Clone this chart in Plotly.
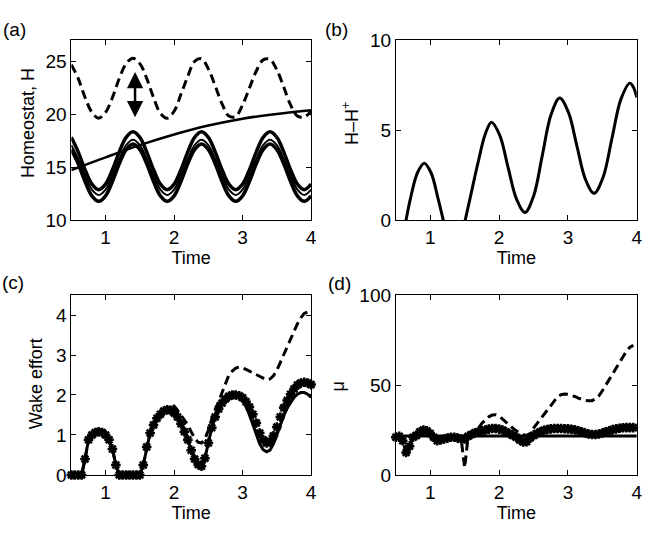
import plotly.graph_objects as go

# ---------------- data ----------------
# panel (a): homeostat
a_x = [0.5, 0.6, 0.7, 0.8, 0.9, 1.0, 1.1, 1.2, 1.3, 1.4,
       1.5, 1.6, 1.7, 1.8, 1.9, 2.0, 2.1, 2.2, 2.3, 2.4,
       2.5, 2.6, 2.7, 2.8, 2.9, 3.0, 3.1, 3.2, 3.3, 3.4,
       3.5, 3.6, 3.7, 3.8, 3.9, 4.0]
a_upper = [17.84, 16.47, 14.79, 13.42, 12.9, 13.42, 14.79, 16.47, 17.84, 18.36,
           17.84, 16.47, 14.79, 13.42, 12.9, 13.42, 14.79, 16.47, 17.84, 18.36,
           17.84, 16.47, 14.79, 13.42, 12.9, 13.42, 14.79, 16.47, 17.84, 18.36,
           17.84, 16.47, 14.79, 13.42, 12.9, 13.42]
a_middle = [17.1, 15.8, 14.2, 12.9, 12.4, 12.9, 14.2, 15.8, 17.1, 17.6,
            17.1, 15.8, 14.2, 12.9, 12.4, 12.9, 14.2, 15.8, 17.1, 17.6,
            17.1, 15.8, 14.2, 12.9, 12.4, 12.9, 14.2, 15.8, 17.1, 17.6,
            17.1, 15.8, 14.2, 12.9, 12.4, 12.9]
a_lower = [16.68, 15.33, 13.67, 12.32, 11.8, 12.32, 13.67, 15.33, 16.68, 17.2,
           16.68, 15.33, 13.67, 12.32, 11.8, 12.32, 13.67, 15.33, 16.68, 17.2,
           16.68, 15.33, 13.67, 12.32, 11.8, 12.32, 13.67, 15.33, 16.68, 17.2,
           16.68, 15.33, 13.67, 12.32, 11.8, 12.32]
a_dashed = [24.7, 23.4, 21.6, 20.2, 19.65, 20.2, 21.6, 23.4, 24.8, 25.3,
            24.8, 23.4, 21.6, 20.1, 19.65, 20.3, 21.9, 23.6, 25.0, 25.25,
            24.3, 22.7, 21.0, 19.85, 19.8, 20.9, 22.5, 24.1, 25.15, 25.2,
            24.2, 22.6, 20.9, 19.85, 19.75, 20.3]
a_trend_x = [0.5, 1.0, 1.5, 2.0, 2.5, 3.0, 3.5, 4.0]
a_trend = [14.75, 15.95, 17.1, 18.1, 18.95, 19.6, 20.05, 20.4]
a_arrow_x = 1.43
a_arrow_y = [19.6, 24.0]

# panel (b): H - H+
b_x = [0.648, 0.713, 0.813, 0.913, 1.013, 1.113, 1.19, None,
       1.507, 1.6, 1.7, 1.8, 1.89, 2.01, 2.13, 2.255, 2.377,
       2.503, 2.628, 2.754, 2.88, 3.005, 3.13, 3.255, 3.38,
       3.51, 3.64, 3.77, 3.90, 3.95, 4.0]
b_y = [0.0, 1.22, 2.63, 3.17, 2.63, 1.22, 0.0, None,
       0.0, 1.6, 3.3, 4.8, 5.45, 4.72, 2.95, 1.17, 0.44,
       1.37, 3.61, 5.86, 6.79, 6.02, 4.14, 2.27, 1.5,
       2.39, 4.56, 6.73, 7.62, 7.4, 6.83]

# panels (c) and (d): common time grid
t = [0.50, 0.55, 0.60, 0.65, 0.70, 0.75, 0.80, 0.85, 0.90, 0.95,
     1.00, 1.05, 1.10, 1.15, 1.20, 1.25, 1.30, 1.35, 1.40, 1.45,
     1.50, 1.55, 1.60, 1.65, 1.70, 1.75, 1.80, 1.85, 1.90, 1.95,
     2.00, 2.05, 2.10, 2.15, 2.20, 2.25, 2.30, 2.35, 2.40, 2.45,
     2.50, 2.55, 2.60, 2.65, 2.70, 2.75, 2.80, 2.85, 2.90, 2.95,
     3.00, 3.05, 3.10, 3.15, 3.20, 3.25, 3.30, 3.35, 3.40, 3.45,
     3.50, 3.55, 3.60, 3.65, 3.70, 3.75, 3.80, 3.85, 3.90, 3.95,
     4.00]

c_markers = [0, 0, 0, 0, 0.4, 0.88, 1.0, 1.06, 1.08, 1.06,
             1.0, 0.88, 0.65, 0.25, 0, 0, 0, 0, 0, 0,
             0, 0.25, 0.7, 1.05, 1.25, 1.42, 1.52, 1.6, 1.63, 1.62,
             1.55, 1.45, 1.28, 1.08, 0.88, 0.62, 0.4, 0.26, 0.22, 0.42,
             0.8, 1.18, 1.45, 1.65, 1.8, 1.9, 1.97, 2.0, 2.0, 1.98,
             1.93, 1.83, 1.7, 1.52, 1.3, 1.05, 0.88, 0.8, 0.84, 0.98,
             1.2, 1.45, 1.68, 1.86, 2.02, 2.15, 2.25, 2.3, 2.32, 2.3,
             2.26]
c_solid = [0, 0, 0, 0, 0.4, 0.88, 1.0, 1.06, 1.08, 1.06,
           1.0, 0.88, 0.65, 0.25, 0, 0, 0, 0, 0, 0,
           0, 0.25, 0.7, 1.05, 1.25, 1.42, 1.52, 1.6, 1.63, 1.62,
           1.55, 1.45, 1.28, 1.08, 0.88, 0.62, 0.4, 0.26, 0.22, 0.42,
           0.8, 1.18, 1.45, 1.65, 1.8, 1.9, 1.97, 2.0, 2.0, 1.96,
           1.87, 1.72, 1.5, 1.25, 1.0, 0.78, 0.63, 0.58, 0.62, 0.78,
           1.0, 1.25, 1.48, 1.67, 1.82, 1.94, 2.02, 2.06, 2.06, 2.02,
           1.94]
c_dashed = [0, 0, 0, 0, 0.4, 0.88, 1.0, 1.06, 1.08, 1.06,
            1.0, 0.88, 0.65, 0.25, 0, 0, 0, 0, 0, 0,
            0, 0.25, 0.7, 1.05, 1.25, 1.42, 1.52, 1.6, 1.63, 1.68,
            1.72, 1.62, 1.5, 1.38, 1.25, 1.08, 0.92, 0.82, 0.8, 0.9,
            1.12, 1.4, 1.62, 1.85, 2.08, 2.3, 2.5, 2.6, 2.67, 2.7,
            2.68, 2.64, 2.6, 2.56, 2.52, 2.47, 2.42, 2.38, 2.4, 2.48,
            2.62, 2.82, 3.02, 3.22, 3.42, 3.6, 3.78, 3.93, 4.04, 4.08,
            4.1]

d_markers = [21, 21.5, 19, 12.5, 16, 21, 22, 24, 25, 24.5,
             23, 21, 19, 19.5, 20, 20.5, 21, 21, 20.5, 20,
             20, 21.5, 22.5, 23.5, 24, 24.5, 25, 25.5, 25.8, 25.8,
             25.5, 25, 24, 23, 22, 21, 19.5, 18.3, 18.5, 20.5,
             22, 23, 24, 24.8, 25.3, 25.6, 25.8, 25.8, 25.8, 25.7,
             25.6, 25.4, 25.1, 24.6, 24, 23.3, 22.8, 22.5, 22.5, 22.8,
             23.3, 24, 24.6, 25.2, 25.6, 26, 26.2, 26.3, 26.3, 26.3,
             None]
d_dashed = [21, 21.5, 19, 12.5, 16, 21, 22, 24, 25, 24.5,
            23, 21, 19, 19.5, 20, 20.5, 21, 21, 20.5, 20,
            4, 21.5, 22.5, 24, 26, 28.7, 30.8, 32.3, 33.3, 33.5,
            32.8, 31, 29.3, 27.6, 26, 24.5, 23.2, 22.3, 22, 23,
            26, 28.5, 31, 33.5, 36.3, 39, 41.3, 43.5, 44.6, 45,
            44.8, 44.4, 43.6, 42.7, 42, 41.5, 41.2, 41.3, 42.2, 44,
            46.8, 50, 53.3, 56.6, 59.6, 62.8, 66, 68.8, 71, 72,
            None]
d_base_x = [0.5, 4.0]
d_base = [21.7, 21.7]

# ---------------- figure ----------------
FONT = "Liberation Sans, Arial, Helvetica, sans-serif"
fig = go.Figure()

def line(x, y, xa, ya, width, dash=None, shape="linear"):
    fig.add_trace(go.Scatter(x=x, y=y, xaxis=xa, yaxis=ya, mode="lines",
                             line=dict(color="black", width=width, dash=dash, shape=shape),
                             showlegend=False, hoverinfo="skip"))

def marks(x, y, xa, ya):
    fig.add_trace(go.Scatter(x=x, y=y, xaxis=xa, yaxis=ya, mode="markers",
                             marker=dict(symbol="asterisk-open", size=8, color="black",
                                         line=dict(color="black", width=2.5)),
                             cliponaxis=False, showlegend=False, hoverinfo="skip"))

# (a)
line(a_x, a_dashed, "x", "y", 3, dash="9px,5px", shape="spline")
line(a_trend_x, a_trend, "x", "y", 2.5, shape="spline")
line(a_x, a_upper, "x", "y", 3.5, shape="spline")
line(a_x, a_middle, "x", "y", 2, shape="spline")
line(a_x, a_lower, "x", "y", 3.5, shape="spline")
# (b)
line(b_x, b_y, "x2", "y2", 3, shape="spline")
# (c)
line(t, c_dashed, "x3", "y3", 3, dash="9px,5px")
line(t, c_solid, "x3", "y3", 3)
marks(t, c_markers, "x3", "y3")
# (d)
line(t, d_dashed, "x4", "y4", 3, dash="9px,5px")
line(d_base_x, d_base, "x4", "y4", 3)
marks(t, d_markers, "x4", "y4")

axis_common = dict(showgrid=False, zeroline=False, showline=True, linecolor="black",
                   linewidth=1, mirror="ticks", ticks="inside", ticklen=5,
                   tickcolor="black", tickwidth=1,
                   tickfont=dict(family=FONT, size=19, color="black"))

xdomL = [72 / 651, 314 / 651]
xdomR = [399.5 / 651, 642.7 / 651]
ydomT = [1 - 219 / 534, 1 - 31.5 / 534]
ydomB = [1 - 484 / 534, 1 - 296.7 / 534]

def xax(dom, anchor):
    return dict(axis_common, domain=dom, anchor=anchor, range=[0.5, 4],
                tickvals=[1, 2, 3, 4],
                title=dict(text="Time", font=dict(family=FONT, size=18, color="black"),
                           standoff=1))

def yax(dom, anchor, rng, ticks):
    return dict(axis_common, domain=dom, anchor=anchor, range=rng, tickvals=ticks)

fig.update_layout(
    width=651, height=534,
    margin=dict(l=0, r=0, t=0, b=0),
    paper_bgcolor="white", plot_bgcolor="white",
    xaxis=xax(xdomL, "y"),
    yaxis=yax(ydomT, "x", [10, 27], [10, 15, 20, 25]),
    xaxis2=xax(xdomR, "y2"),
    yaxis2=yax(ydomT, "x2", [0, 10], [0, 5, 10]),
    xaxis3=xax(xdomL, "y3"),
    yaxis3=yax(ydomB, "x3", [0, 4.5], [0, 1, 2, 3, 4]),
    xaxis4=xax(xdomR, "y4"),
    yaxis4=yax(ydomB, "x4", [0, 100], [0, 50, 100]),
)

# y-axis titles (rotated text)
for txt, px, py in [("Homeostat, H", 29, 118), ("H\u2013H<sup>+</sup>", 354, 118),
                    ("Wake effort", 36, 389), ("\u03bc", 341, 392)]:
    fig.add_annotation(text=txt, x=px / 651, y=1 - py / 534, xref="paper", yref="paper",
                       showarrow=False, textangle=-90, xanchor="center", yanchor="middle",
                       font=dict(family=FONT, size=18, color="black"))

# double-headed arrow in (a)
fig.add_annotation(x=a_arrow_x, y=a_arrow_y[1], ax=a_arrow_x, ay=a_arrow_y[0],
                   xref="x", yref="y", axref="x", ayref="y", text="",
                   showarrow=True, arrowhead=2, startarrowhead=2, arrowside="end+start",
                   arrowsize=1.3, startarrowsize=1.3, arrowwidth=2.5, arrowcolor="black",
                   standoff=0, startstandoff=0)

for lbl, px, py in [("(a)", 15, 20), ("(b)", 340, 20), ("(c)", 13, 284), ("(d)", 343, 285)]:
    fig.add_annotation(text=lbl, x=px / 651, y=1 - py / 534, xref="paper", yref="paper",
                       showarrow=False, xanchor="center", yanchor="middle",
                       font=dict(family=FONT, size=19, color="black"))

fig.write_html("out.html", config={"displayModeBar": False},
               post_script="document.body.style.margin='0px';document.body.style.overflow='hidden';")
